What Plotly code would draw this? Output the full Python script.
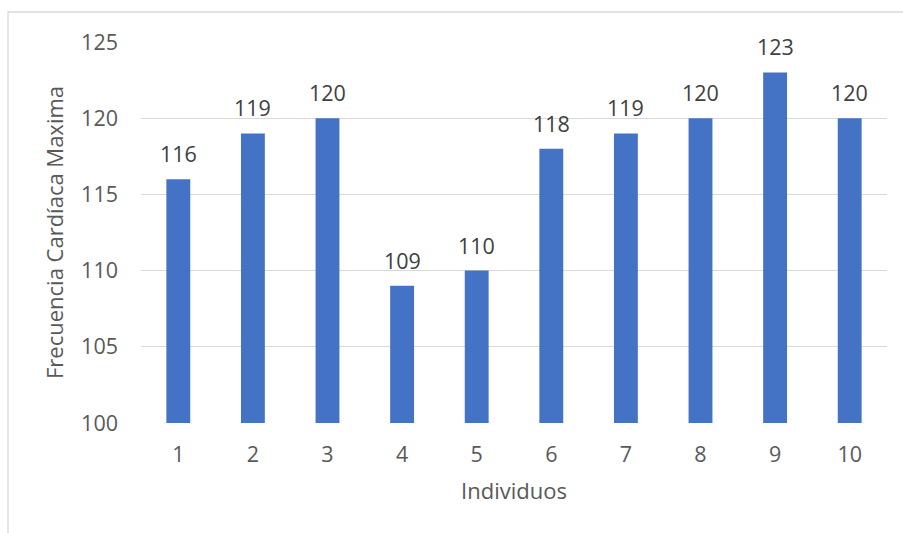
import plotly.graph_objects as go

individuos = ["1", "2", "3", "4", "5", "6", "7", "8", "9", "10"]
frecuencia_max = [116, 119, 120, 109, 110, 118, 119, 120, 123, 120]
y_ticks = [100, 105, 110, 115, 120, 125]

FONT = "Open Sans"
W, H = 903, 533
L, R, T, B = 141, 16, 42, 110
pw, ph = W - L - R, H - T - B

fig = go.Figure()
fig.add_trace(go.Bar(
    x=individuos, y=frecuencia_max, base=0,
    marker=dict(color="#4472C4", line=dict(width=0)),
    hoverinfo="x+y",
))

# value labels above each bar (category axis positions are indices)
for i, val in enumerate(frecuencia_max):
    fig.add_annotation(
        x=i, y=val, text=str(val), showarrow=False,
        yanchor="bottom", yshift=9,
        font=dict(family=FONT, size=21.5, color="#404040"),
    )

# outer chart border
fig.add_shape(
    type="rect", xref="paper", yref="paper",
    x0=(8 - L) / pw, x1=(W + 10 - L) / pw,
    y0=(T + ph - (H + 10)) / ph, y1=(T + ph - 12) / ph,
    line=dict(color="#d9d9d9", width=1.3), fillcolor="rgba(0,0,0,0)",
    layer="below",
)

fig.update_layout(
    width=W, height=H,
    margin=dict(l=L, r=R, t=T, b=B),
    paper_bgcolor="white", plot_bgcolor="white",
    bargap=0.68, showlegend=False,
    font=dict(family=FONT, color="#595959"),
    xaxis=dict(
        type="category", showgrid=False, showline=False, ticks="",
        tickfont=dict(size=21.5, color="#595959"), ticklabelstandoff=16,
        title=dict(text="Individuos", font=dict(size=22, color="#595959"), standoff=17),
    ),
    yaxis=dict(
        range=[100, 125], tickvals=y_ticks,
        showgrid=True, gridcolor="#d9d9d9", gridwidth=1.3,
        zeroline=False, showline=False, ticks="",
        tickfont=dict(size=21.5, color="#595959"), ticklabelstandoff=22,
        title=dict(text="Frecuencia Cardíaca Maxima", font=dict(size=22, color="#595959"), standoff=11),
    ),
)

fig.write_html("out.html")
